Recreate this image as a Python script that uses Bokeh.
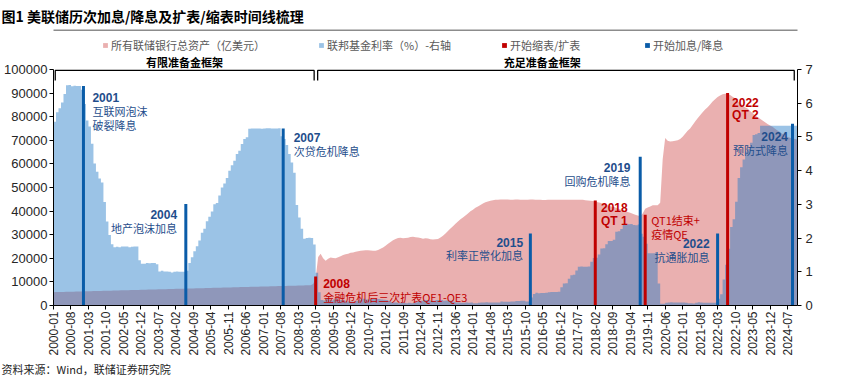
import math
from bokeh.plotting import figure
from bokeh.models import (Range1d, LinearAxis, FixedTicker, Label, Legend, LegendItem,
                          Title, NumeralTickFormatter)
from bokeh.embed import file_html
from bokeh.resources import INLINE

# ---------------- data ----------------
tick_labels = ["2000-01", "2000-08", "2001-03", "2001-10", "2002-05", "2002-12", "2003-07",
               "2004-02", "2004-09", "2005-04", "2005-11", "2006-06", "2007-01", "2007-08",
               "2008-03", "2008-10", "2009-05", "2009-12", "2010-07", "2011-02", "2011-09",
               "2012-04", "2012-11", "2013-06", "2014-01", "2014-08", "2015-03", "2015-10",
               "2016-05", "2016-12", "2017-07", "2018-02", "2018-09", "2019-04", "2019-11",
               "2020-06", "2021-01", "2021-08", "2022-03", "2022-10", "2023-05", "2023-12",
               "2024-07"]

# monthly, 2000-01 .. 2024-11  (亿美元)
fed_total_assets = [
    5650, 5680, 5700, 5730, 5760, 5790, 5810, 5840, 5870, 5900, 5930, 5960,
    5990, 6020, 6050, 6070, 6100, 6130, 6160, 6190, 6220, 6250, 6270, 6300,
    6330, 6360, 6390, 6420, 6450, 6470, 6500, 6530, 6560, 6590, 6620, 6650,
    6680, 6700, 6730, 6760, 6790, 6820, 6850, 6880, 6900, 6930, 6960, 6990,
    7020, 7050, 7080, 7100, 7130, 7160, 7190, 7220, 7250, 7280, 7300, 7330,
    7360, 7390, 7420, 7450, 7480, 7500, 7530, 7560, 7590, 7620, 7650, 7680,
    7700, 7730, 7760, 7790, 7820, 7850, 7880, 7900, 7930, 7960, 7990, 8020,
    8050, 8080, 8100, 8130, 8160, 8190, 8220, 8250, 8280, 8300, 8330, 8360,
    8390, 8420, 8450, 8480, 8500, 8530, 8560, 8590, 9100, 11500, 20500, 21900,
    20000, 19000, 19800, 20300, 20100, 20000, 20400, 20900, 21400, 21700, 21900, 22300,
    22500, 22800, 23000, 23200, 23300, 23400, 23400, 23300, 23200, 23200, 23500, 24000,
    24600, 25300, 26200, 26900, 27600, 28200, 28600, 28700, 28500, 28600, 28700, 29000,
    29100, 28900, 28800, 28600, 28300, 28500, 28400, 28100, 28000, 28100, 28200, 28800,
    29600, 30500, 31600, 32600, 33600, 34600, 35600, 36500, 37300, 38100, 39000, 39900,
    40600, 41400, 42000, 42600, 43200, 43700, 44100, 44400, 44600, 44800, 44800, 44900,
    44900, 44900, 44900, 44800, 44800, 44900, 44900, 44800, 44800, 44800, 44800, 44900,
    44900, 44800, 44800, 44800, 44700, 44700, 44800, 44800, 44800, 44800, 44800, 44800,
    44800, 44800, 44800, 44800, 44800, 44800, 44800, 44800, 44800, 44600, 44500, 44400,
    44300, 44100, 43800, 43500, 43100, 42800, 42500, 42100, 41800, 41500, 41100, 40700,
    40400, 40000, 39600, 39300, 38900, 38500, 38100, 37800, 39000, 41000, 41500, 42000,
    42500, 42500, 42500, 43500, 62000, 71000, 69800, 69500, 69600, 69800, 70000, 70500,
    71500, 72800, 74000, 75000, 76500, 78000, 79300, 80600, 81900, 83000, 84000, 85200,
    86400, 87400, 88300, 89000, 89500, 89700, 89600, 89200, 88500, 87800, 86700, 85600,
    84800, 84000, 83500, 82400, 81600, 80600, 79800, 79100, 78400, 77600, 76900, 76300,
    75700, 74900, 74200, 73500, 72700, 72000, 71400, 71100, 70800, 70600, 70300,
]

# monthly, 2000-01 .. 2024-11  (%)
fed_funds_rate = [
    5.45, 5.73, 5.85, 6.02, 6.27, 6.53, 6.54, 6.50, 6.52, 6.51, 6.51, 6.40,
    5.98, 5.49, 5.31, 4.80, 4.21, 3.97, 3.77, 3.65, 3.07, 2.49, 2.09, 1.82,
    1.73, 1.74, 1.73, 1.75, 1.75, 1.75, 1.73, 1.74, 1.75, 1.75, 1.34, 1.24,
    1.24, 1.26, 1.25, 1.26, 1.26, 1.22, 1.01, 1.03, 1.01, 1.01, 1.00, 0.98,
    1.00, 1.01, 1.00, 1.00, 1.00, 1.03, 1.26, 1.43, 1.61, 1.76, 1.93, 2.16,
    2.28, 2.50, 2.63, 2.79, 3.00, 3.04, 3.26, 3.50, 3.62, 3.78, 4.00, 4.16,
    4.29, 4.49, 4.59, 4.79, 4.94, 4.99, 5.24, 5.25, 5.25, 5.25, 5.25, 5.24,
    5.25, 5.26, 5.26, 5.25, 5.25, 5.25, 5.26, 5.02, 4.94, 4.76, 4.49, 4.24,
    3.94, 2.98, 2.61, 2.28, 1.98, 2.00, 2.01, 2.00, 1.81, 0.97, 0.39, 0.16,
    0.15, 0.22, 0.18, 0.15, 0.18, 0.21, 0.16, 0.16, 0.15, 0.12, 0.12, 0.12,
    0.11, 0.13, 0.16, 0.20, 0.20, 0.18, 0.18, 0.19, 0.19, 0.19, 0.19, 0.18,
    0.17, 0.16, 0.14, 0.10, 0.09, 0.09, 0.07, 0.10, 0.08, 0.07, 0.08, 0.07,
    0.08, 0.10, 0.13, 0.14, 0.16, 0.16, 0.16, 0.13, 0.14, 0.16, 0.16, 0.16,
    0.14, 0.15, 0.14, 0.15, 0.11, 0.09, 0.09, 0.08, 0.08, 0.09, 0.08, 0.09,
    0.07, 0.07, 0.08, 0.09, 0.09, 0.10, 0.09, 0.09, 0.09, 0.09, 0.09, 0.12,
    0.11, 0.11, 0.11, 0.12, 0.12, 0.13, 0.13, 0.14, 0.14, 0.12, 0.12, 0.24,
    0.34, 0.38, 0.36, 0.37, 0.37, 0.38, 0.39, 0.40, 0.40, 0.40, 0.41, 0.54,
    0.65, 0.66, 0.79, 0.90, 0.91, 1.04, 1.15, 1.16, 1.15, 1.15, 1.16, 1.30,
    1.41, 1.42, 1.51, 1.69, 1.70, 1.82, 1.91, 1.91, 1.95, 2.19, 2.20, 2.27,
    2.40, 2.40, 2.41, 2.42, 2.39, 2.38, 2.40, 2.13, 2.04, 1.83, 1.55, 1.55,
    1.55, 1.58, 0.65, 0.05, 0.05, 0.08, 0.09, 0.10, 0.09, 0.09, 0.09, 0.09,
    0.09, 0.08, 0.07, 0.07, 0.06, 0.08, 0.10, 0.09, 0.08, 0.08, 0.08, 0.08,
    0.08, 0.08, 0.20, 0.33, 0.77, 1.21, 1.68, 2.33, 2.56, 3.08, 3.78, 4.10,
    4.33, 4.57, 4.65, 4.83, 5.06, 5.08, 5.12, 5.33, 5.33, 5.33, 5.33, 5.33,
    5.33, 5.33, 5.33, 5.33, 5.33, 5.33, 5.33, 5.33, 5.33, 5.33, 5.33,
]

# 开始加息/降息 events (blue) and 开始缩表/扩表 events (red), with bar heights (left axis)
rate_event_months = ["2001-01", "2004-06", "2007-09", "2015-12", "2019-08", "2022-03", "2024-09"]
rate_event_heights = [93000, 43000, 75000, 30500, 63000, 30500, 77000]
bs_event_months = ["2008-10", "2018-02", "2019-10", "2022-07"]
bs_event_heights = [12300, 44500, 38500, 90000]

# reserve framework periods (month index range) and their names
regime_names = ["有限准备金框架", "充足准备金框架"]
regime_start = [0.7, 105.8]
regime_end = [104.4, 296.7]

assert len(fed_total_assets) == len(fed_funds_rate)


def month_index(s):
    y, m = s.split("-")
    return (int(y) - 2000) * 12 + int(m) - 1


x = list(range(len(fed_total_assets)))

# ---------------- styling ----------------
PINK = "#EAB0B0"
RATE_BLUE = (33, 122, 199)
EV_BLUE = "#0A5CA8"
EV_RED = "#C00000"
TXT_BLUE = "#1F4E8C"
TXT_RED = "#C00000"
CJK = "Noto Sans CJK SC"
LAT = "Liberation Sans"

Y_MAX = 100000
Y_TOP = 117797          # frame extends above the axis to hold legend / framework labels
RATE_MAX = 7
RATE_TOP = RATE_MAX * Y_TOP / Y_MAX

p = figure(width=844, height=376, output_backend="svg", toolbar_location=None,
           x_range=Range1d(0, len(x) - 1), y_range=Range1d(0, Y_TOP),
           min_border_left=53, min_border_right=47, min_border_top=27, min_border_bottom=71)
p.extra_y_ranges = {"rate": Range1d(0, RATE_TOP)}
p.outline_line_color = None
p.grid.visible = False
p.background_fill_color = "white"
p.border_fill_color = "white"

# title (above panel)
p.title.text = "图1 美联储历次加息/降息及扩表/缩表时间线梳理"
p.title.align = "left"
p.title.offset = -52
p.title.standoff = 4
p.title.text_font = CJK
p.title.text_font_size = "14px"
p.title.text_font_style = "bold"
p.title.text_color = "black"

# axes
p.xaxis.ticker = FixedTicker(ticks=[month_index(t) for t in tick_labels])
p.xaxis.major_label_overrides = {month_index(t): t for t in tick_labels}
p.xaxis.major_label_orientation = math.pi / 2
p.yaxis.ticker = FixedTicker(ticks=list(range(0, Y_MAX + 1, 10000)))
p.yaxis.formatter = NumeralTickFormatter(format="0")
p.yaxis.bounds = (0, Y_MAX)
right = LinearAxis(y_range_name="rate", ticker=FixedTicker(ticks=list(range(0, RATE_MAX + 1))),
                   formatter=NumeralTickFormatter(format="0"), bounds=(0, RATE_MAX))
p.add_layout(right, "right")

for ax in p.axis:
    ax.axis_line_color = "black"
    ax.major_tick_line_color = "black"
    ax.minor_tick_line_color = None
    ax.major_tick_in = 0
    ax.major_tick_out = 4
    ax.major_label_standoff = 2
    ax.major_label_text_font = LAT
    ax.major_label_text_color = "#262626"
    ax.major_label_text_font_size = "13px"
p.xaxis.major_label_text_font_size = "12px"
p.xaxis.major_label_standoff = 2
right.major_label_standoff = 4

# source note below the tick labels
p.add_layout(Title(text="资料来源：Wind，联储证券研究院", align="left", offset=-52, standoff=0,
                   text_font=CJK, text_font_size="11px", text_font_style="normal",
                   text_color="#262626"), "below")

# rule under the title
p.line(x=[-5, len(x) + 5], y=[116600, 116600], line_color="#8C8C8C", line_width=1.5)

# areas
r_assets = p.varea(x=x, y1=0, y2=fed_total_assets, fill_color=PINK)
r_rate = p.varea_step(x=x, y1=0, y2=fed_funds_rate, step_mode="after",
                      fill_color=RATE_BLUE, fill_alpha=0.45, y_range_name="rate")

# event bars
r_rate_ev = p.vbar(x=[month_index(m) for m in rate_event_months], top=rate_event_heights,
                   width=1.2, fill_color=EV_BLUE, line_color=None)
r_bs_ev = p.vbar(x=[month_index(m) for m in bs_event_months], top=bs_event_heights,
                 width=1.2, fill_color=EV_RED, line_color=None)

# framework brackets
for s, e in zip(regime_start, regime_end):
    p.line([s, s, e, e], [95300, 99600, 99600, 95300], line_color="black", line_width=1.3)
regime_label_x = [52.5, 195.8]
for name, lx in zip(regime_names, regime_label_x):
    p.add_layout(Label(x=lx, y=103100, text=name, text_align="center", text_baseline="middle",
                       text_font=CJK, text_font_size="11px", text_font_style="bold",
                       text_color="black"))

# legends
legend_spec = [(r_assets, "所有联储银行总资产（亿美元）", 49),
               (r_rate, "联邦基金利率（%）-右轴", 265),
               (r_bs_ev, "开始缩表/扩表", 448),
               (r_rate_ev, "开始加息/降息", 591)]
for rend, lab, lx in legend_spec:
    lg = Legend(items=[LegendItem(label=lab, renderers=[rend])], location=(lx, 252),
                orientation="horizontal", glyph_width=6, glyph_height=6, label_standoff=3,
                padding=0, margin=0, spacing=0, border_line_color=None,
                background_fill_alpha=0, label_text_font=CJK, label_text_font_size="11px",
                label_text_color="#595959", label_height=12)
    p.add_layout(lg)

# event annotations: (x, y, text, color, bold, align)
annotations = [
    (15.6, 88260, "2001", TXT_BLUE, True, "left"),
    (15.6, 82500, "互联网泡沫", TXT_BLUE, False, "left"),
    (15.6, 76480, "破裂降息", TXT_BLUE, False, "left"),
    (49.5, 38560, "2004", TXT_BLUE, True, "right"),
    (49.5, 32920, "地产泡沫加息", TXT_BLUE, False, "right"),
    (96.2, 71060, "2007", TXT_BLUE, True, "left"),
    (96.2, 65550, "次贷危机降息", TXT_BLUE, False, "left"),
    (108.0, 9450, "2008", TXT_RED, True, "left"),
    (108.0, 3810, "金融危机后三次扩表QE1-QE3", TXT_RED, False, "left"),
    (188.1, 26820, "2015", TXT_BLUE, True, "right"),
    (188.1, 21190, "利率正常化加息", TXT_BLUE, False, "right"),
    (231.1, 58350, "2019", TXT_BLUE, True, "right"),
    (231.1, 52670, "回购危机降息", TXT_BLUE, False, "right"),
    (219.3, 41400, "2018", TXT_RED, True, "left"),
    (219.3, 35720, "QT 1", TXT_RED, True, "left"),
    (239.4, 36310, "QT1结束+", TXT_RED, False, "left"),
    (239.4, 30380, "疫情QE", TXT_RED, False, "left"),
    (262.8, 26140, "2022", TXT_BLUE, True, "right"),
    (262.8, 20340, "抗通胀加息", TXT_BLUE, False, "right"),
    (271.8, 85890, "2022", TXT_RED, True, "left"),
    (271.8, 80510, "QT 2", TXT_RED, True, "left"),
    (294.2, 71610, "2024", TXT_BLUE, True, "right"),
    (294.2, 65980, "预防式降息", TXT_BLUE, False, "right"),
]
for ax_, ay, t, c, b, al in annotations:
    latin = all(ord(ch) < 128 for ch in t)
    p.add_layout(Label(x=ax_, y=ay, text=t, text_color=c, text_align=al,
                       text_baseline="middle", text_font=LAT if latin else CJK,
                       text_font_size="12px" if latin else "11px",
                       text_font_style="bold" if b else "normal"))

open("out.html", "w").write(file_html(p, INLINE))
